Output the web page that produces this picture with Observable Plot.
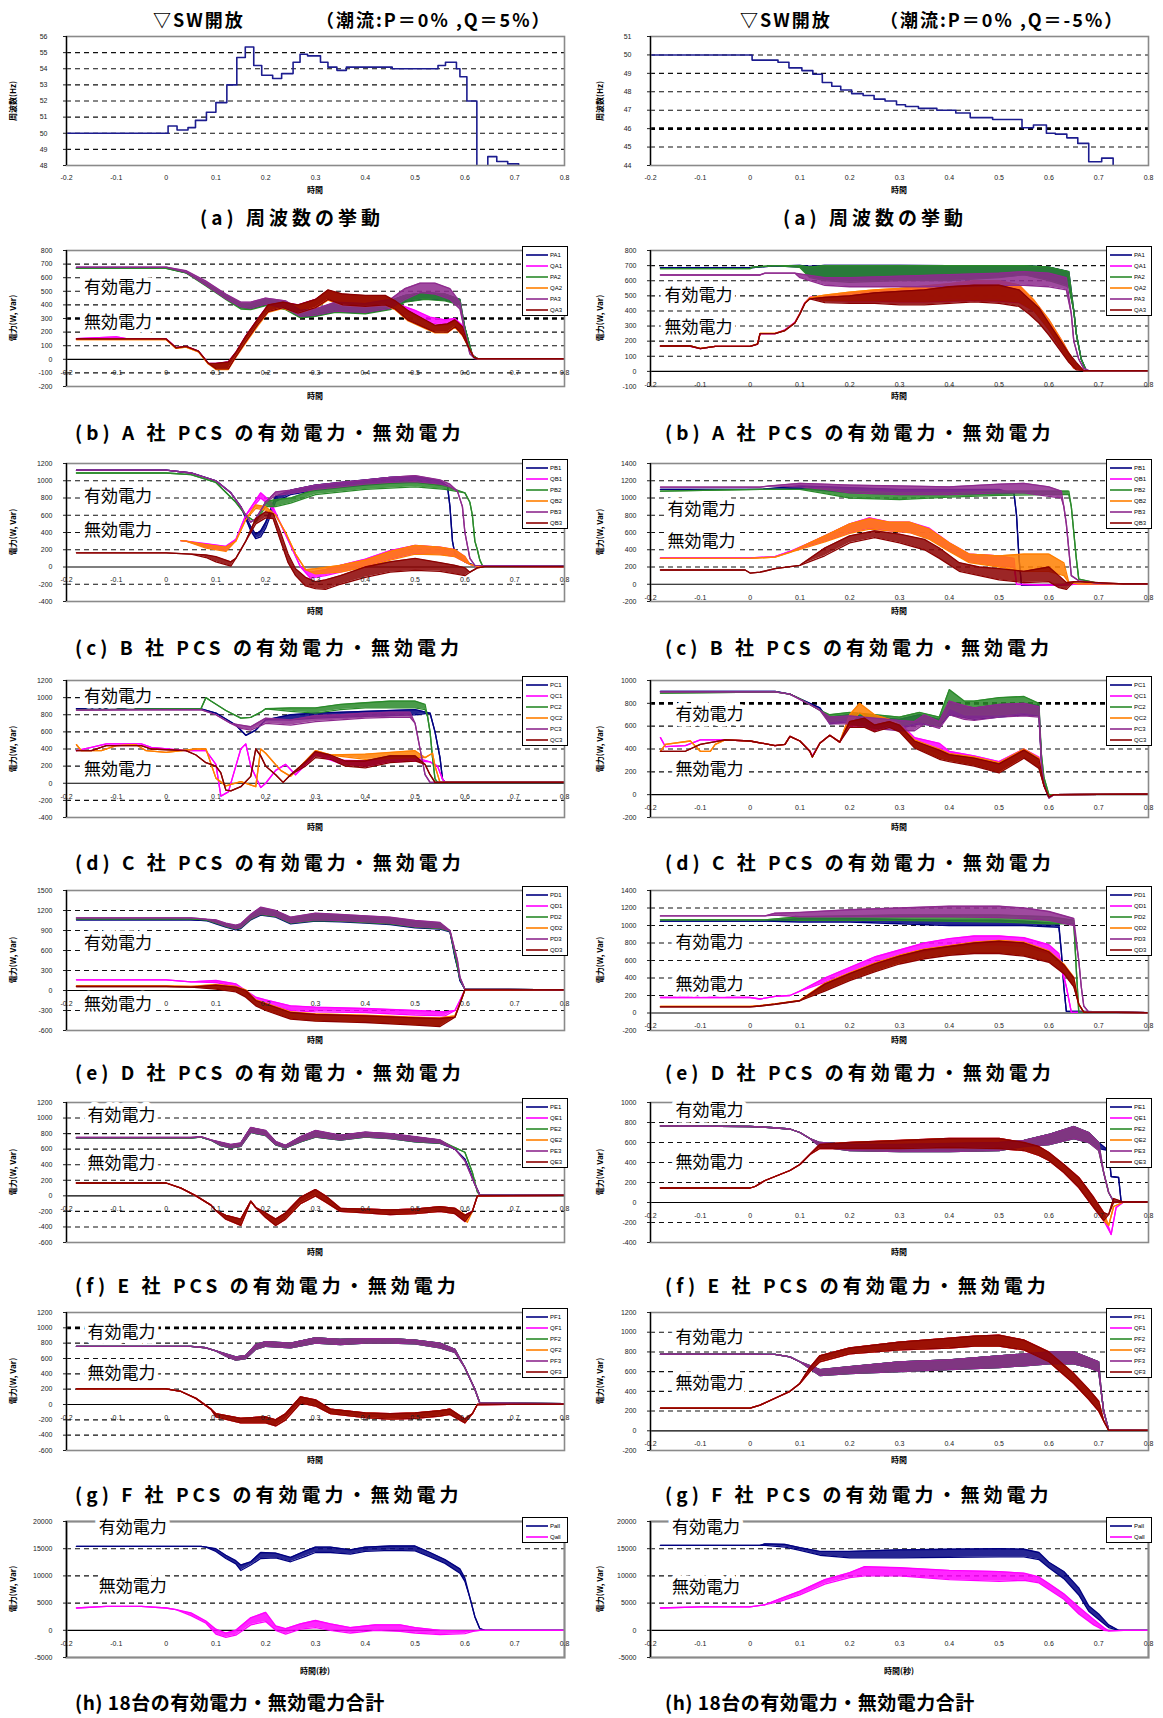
<!DOCTYPE html>
<html><head><meta charset="utf-8">
<script src="https://cdn.jsdelivr.net/npm/d3@7"></script>
<script src="https://cdn.jsdelivr.net/npm/@observablehq/plot@0.6"></script>
<style>
body{margin:0;background:#fff;}
#root{position:relative;width:1163px;height:1718px;overflow:hidden;font-family:"Noto Sans CJK JP","Noto Sans",sans-serif;}
.cap{font-weight:700;font-size:19px;letter-spacing:4px;white-space:nowrap;line-height:1;}
.hdr{font-weight:700;font-size:18px;letter-spacing:2px;white-space:nowrap;line-height:1;}
.xt{font-weight:700;font-size:8px;white-space:nowrap;line-height:1;transform:translateX(-50%);}
.yt{font-weight:700;font-size:8px;white-space:nowrap;line-height:1;transform:translate(-50%,-50%) rotate(-90deg);}
.leg{background:#fff;border:1.6px solid #000;box-sizing:border-box;padding:2px 2px 0 3px;}
.leg .r{display:flex;align-items:center;height:11px;font:6px "Liberation Sans",sans-serif;}
.leg svg{margin-right:2px;}
</style></head><body><div id="root"></div>
<script>
// ---------- common ticks ----------
const xTicks = [-0.2,-0.1,0,0.1,0.2,0.3,0.4,0.5,0.6,0.7,0.8];
const tFreqL = [48,49,50,51,52,53,54,55,56];
const tFreqR = [44,45,46,47,48,49,50,51];
const tAL = [-200,-100,0,100,200,300,400,500,600,700,800];
const tAR = [-100,0,100,200,300,400,500,600,700,800];
const tBL = [-400,-200,0,200,400,600,800,1000,1200];
const tBR = [-200,0,200,400,600,800,1000,1200,1400];
const tCL = [-400,-200,0,200,400,600,800,1000,1200];
const tCR = [-200,0,200,400,600,800,1000];
const tDL = [-600,-300,0,300,600,900,1200,1500];
const tDR = [-200,0,200,400,600,800,1000,1200,1400];
const tEL = [-600,-400,-200,0,200,400,600,800,1000,1200];
const tER = [-400,-200,0,200,400,600,800,1000];
const tFL = [-600,-400,-200,0,200,400,600,800,1000,1200];
const tFR = [-200,0,200,400,600,800,1000,1200];
const tH = [-5000,0,5000,10000,15000,20000];

// ---------- frequency (Hz) step data [t, f] ----------
const freqQ5 = [[-0.2,50],[0.004,50.45],[0.022,50.2],[0.044,50.35],[0.059,50.8],[0.081,51.3],[0.1,51.9],[0.122,53.0],[0.142,54.7],[0.159,55.35],[0.176,54.2],[0.192,53.6],[0.214,53.4],[0.232,53.7],[0.255,54.4],[0.269,54.9],[0.284,54.8],[0.31,54.4],[0.325,54.1],[0.343,53.9],[0.362,54.1],[0.454,54.0],[0.546,54.2],[0.561,54.4],[0.583,54.0],[0.59,53.5],[0.604,52.0],[0.624,47],[0.646,48.55],[0.664,48.25],[0.686,48.1],[0.708,47]];
const freqQm5 = [[-0.2,50],[0.004,49.72],[0.056,49.6],[0.078,49.3],[0.104,49.15],[0.126,48.95],[0.145,48.5],[0.164,48.3],[0.182,48.1],[0.204,47.9],[0.227,47.8],[0.249,47.6],[0.271,47.5],[0.294,47.3],[0.312,47.2],[0.338,47.1],[0.375,47.0],[0.413,46.85],[0.442,46.6],[0.487,46.5],[0.546,46.05],[0.569,46.2],[0.595,45.75],[0.613,45.7],[0.636,45.5],[0.658,45.2],[0.68,44.2],[0.706,44.4],[0.729,43]];

// ---------- power data [t, low, high] (W / Var) ----------
// A社 Q=5%
const aL_P1 = [[-0.18,672],[0,672],[0.04,638],[0.08,545,560],[0.12,445,470],[0.15,380,410],[0.17,372,410],[0.2,400,440],[0.24,370,420],[0.27,310,355],[0.3,320,365],[0.34,350,410],[0.4,340,400],[0.45,370,430],[0.48,425,470],[0.52,445,490],[0.56,435,480],[0.59,405,440],[0.6,230],[0.615,30],[0.625,5],[0.8,5]];
const aL_P2 = [[-0.18,668],[0,668],[0.04,635],[0.08,540,560],[0.12,440,470],[0.15,370,410],[0.17,365,410],[0.2,395,440],[0.24,365,420],[0.27,305,355],[0.3,315,365],[0.34,345,410],[0.4,335,400],[0.45,365,430],[0.48,420,470],[0.52,440,490],[0.56,430,480],[0.59,400,440],[0.6,230],[0.615,30],[0.625,5],[0.8,5]];
const aL_P3 = [[-0.18,678],[0,678],[0.04,640,652],[0.08,545,575],[0.12,445,480],[0.15,385,420],[0.17,375,420],[0.2,405,450],[0.24,375,430],[0.27,315,360],[0.3,325,370],[0.34,355,420],[0.4,345,410],[0.45,375,440],[0.48,440,520],[0.51,490,560],[0.54,480,560],[0.57,440,520],[0.59,370,420],[0.6,200],[0.61,40],[0.62,5],[0.8,5]];
const aL_Q1 = [[-0.18,152],[-0.1,165],[-0.08,152],[0,152],[0.02,85],[0.04,95],[0.065,60],[0.085,-30],[0.1,-65,-30],[0.125,-65,-20],[0.14,20,50],[0.16,130,170],[0.185,260,300],[0.205,350,400],[0.235,380,420],[0.265,340,400],[0.3,380,440],[0.325,440,500],[0.355,400,470],[0.4,390,460],[0.44,400,460],[0.47,350,400],[0.5,310,360],[0.53,270,310],[0.56,250,290],[0.58,260,300],[0.595,200,250],[0.607,100],[0.618,15],[0.625,5],[0.8,5]];
const aL_Q2 = [[-0.18,145],[0,145],[0.02,80],[0.04,90],[0.065,55],[0.085,-35],[0.1,-75,-40],[0.125,-75,-30],[0.14,15,45],[0.16,120,160],[0.185,250,290],[0.205,345,390],[0.235,375,415],[0.265,335,395],[0.3,375,435],[0.325,435,505],[0.355,395,475],[0.4,385,465],[0.44,395,465],[0.46,365,425],[0.485,285,355],[0.515,235,295],[0.54,195,245],[0.565,195,255],[0.58,235,285],[0.595,175,235],[0.607,90],[0.618,15],[0.625,5],[0.8,5]];
const aL_Q3 = [[-0.18,150],[0,150],[0.02,85],[0.04,95],[0.065,60],[0.085,-30],[0.1,-70,-30],[0.125,-70,-20],[0.14,20,50],[0.16,130,170],[0.185,260,300],[0.205,350,400],[0.235,380,420],[0.265,340,400],[0.3,380,440],[0.325,440,510],[0.355,400,480],[0.4,390,470],[0.44,400,470],[0.46,370,430],[0.485,290,360],[0.515,240,300],[0.54,200,250],[0.565,200,260],[0.58,240,290],[0.595,180,240],[0.607,90],[0.618,15],[0.625,5],[0.8,5]];
// A社 Q=-5%
const aR_P1 = [[-0.18,686],[0,686],[0.05,698],[0.1,690,702],[0.12,630,695],[0.15,610,702],[0.2,600,702],[0.3,610,702],[0.4,610,700],[0.5,625,700],[0.55,640,700],[0.6,610,690],[0.64,570,660],[0.65,400],[0.655,250],[0.665,80],[0.675,5],[0.8,5]];
const aR_P2 = [[-0.18,680],[0,680],[0.005,690],[0.05,700],[0.1,688,700],[0.12,620,690],[0.15,600,700],[0.2,590,700],[0.3,600,700],[0.4,600,700],[0.5,620,700],[0.55,640,700],[0.6,600,690],[0.64,560,660],[0.65,400],[0.655,250],[0.665,80],[0.675,5],[0.8,5]];
const aR_P3 = [[-0.18,638],[0.02,638],[0.03,650],[0.09,650],[0.1,620,645],[0.15,570,620],[0.2,560,620],[0.3,560,630],[0.4,560,640],[0.5,570,650],[0.55,570,660],[0.6,560,650],[0.635,540,620],[0.645,380],[0.65,200],[0.66,80],[0.67,20],[0.68,5],[0.8,5]];
const aR_Q1 = [[-0.18,165],[-0.12,165],[-0.1,150],[-0.07,165],[0,165],[0.015,180],[0.02,250],[0.05,250],[0.07,275],[0.09,325],[0.1,385],[0.11,455],[0.12,490],[0.15,470,500],[0.2,465,520],[0.25,465,535],[0.3,460,545],[0.35,460,555],[0.4,465,575],[0.45,470,590],[0.5,465,595],[0.54,455,570],[0.57,400,470],[0.6,275,340],[0.63,120,180],[0.65,20,60],[0.67,5],[0.8,5]];
const aR_Q2 = [[-0.18,168],[-0.12,168],[-0.1,152],[-0.07,166],[0,166],[0.015,182],[0.02,252],[0.05,252],[0.07,272],[0.09,322],[0.1,383],[0.11,452],[0.12,488],[0.15,470,505],[0.2,468,525],[0.25,468,540],[0.3,465,550],[0.35,465,565],[0.4,470,580],[0.45,475,600],[0.5,470,600],[0.54,460,572],[0.57,402,472],[0.6,280,342],[0.63,122,182],[0.65,20,62],[0.67,5],[0.8,5]];
const aR_Q3 = [[-0.18,168],[-0.12,168],[-0.1,150],[-0.07,165],[0,165],[0.015,180],[0.02,250],[0.05,250],[0.07,270],[0.09,320],[0.1,380],[0.11,450],[0.12,480],[0.15,455,490],[0.2,450,500],[0.25,450,520],[0.3,440,530],[0.35,440,540],[0.4,450,560],[0.45,460,570],[0.5,450,570],[0.54,430,540],[0.56,380,480],[0.58,320,420],[0.6,240,320],[0.62,150,220],[0.64,60,120],[0.655,10,60],[0.67,5],[0.8,5]];
// B社 Q=5%
const bL_P1 = [[-0.18,1124],[0,1124],[0.05,1090],[0.1,1000],[0.13,860],[0.15,700],[0.17,420,470],[0.18,330,380],[0.19,350,420],[0.2,450,520],[0.22,760,820],[0.25,840,890],[0.3,890,950],[0.35,920,980],[0.4,950,1010],[0.45,970,1040],[0.5,980,1050],[0.55,950,1000],[0.565,940],[0.57,700],[0.575,300],[0.58,150],[0.6,60],[0.62,15],[0.8,10]];
const bL_P2 = [[-0.18,1090],[0,1090],[0.05,1070],[0.1,980],[0.14,750],[0.16,600],[0.18,520],[0.2,700,760],[0.22,700,780],[0.25,740,800],[0.3,840,900],[0.4,900,960],[0.5,930,990],[0.56,900,940],[0.6,860],[0.61,750],[0.615,600],[0.62,300],[0.625,200],[0.63,80],[0.635,20],[0.8,10]];
const bL_P3 = [[-0.18,1124],[0,1124],[0.05,1090],[0.1,1000],[0.13,860],[0.15,700],[0.16,600],[0.17,520],[0.18,560],[0.2,750],[0.22,830,870],[0.25,850,890],[0.3,900,950],[0.35,930,980],[0.4,960,1010],[0.45,980,1040],[0.5,990,1060],[0.55,960,1010],[0.57,930,960],[0.585,880],[0.595,700],[0.6,400],[0.61,100],[0.62,20],[0.8,10]];
const bL_Q1 = [[0.03,305],[0.04,300],[0.08,230,270],[0.12,190,240],[0.14,320],[0.16,600],[0.19,800,860],[0.21,700,760],[0.23,500],[0.25,250],[0.27,0],[0.29,-130,-60],[0.32,-100,-30],[0.35,-60,20],[0.4,10,90],[0.45,90,190],[0.5,160,250],[0.55,150,230],[0.58,120,200],[0.6,60,120],[0.61,30],[0.625,10],[0.8,5]];
const bL_Q2 = [[0.03,305],[0.04,300],[0.08,220,260],[0.12,180,230],[0.14,300],[0.16,550],[0.18,680,720],[0.2,660,700],[0.22,600],[0.24,400],[0.26,150],[0.28,-30],[0.3,-80,-20],[0.35,-60,20],[0.4,0,80],[0.45,80,180],[0.5,150,250],[0.55,140,230],[0.58,120,200],[0.6,60,120],[0.61,30],[0.625,10],[0.8,5]];
const bL_Q3 = [[-0.18,164],[0,164],[0.05,150],[0.08,110,140],[0.1,60,120],[0.13,10,60],[0.14,100],[0.16,300],[0.18,500,560],[0.2,570,640],[0.215,560,620],[0.23,300,400],[0.245,50,150],[0.26,-100,-20],[0.28,-220,-120],[0.3,-250,-170],[0.32,-260,-150],[0.35,-200,-100],[0.4,-120,0],[0.45,-60,60],[0.5,-40,100],[0.55,-50,50],[0.58,-80,20],[0.6,-100,-10],[0.61,-60],[0.625,-10],[0.64,5],[0.8,5]];
// B社 Q=-5%
const bR_P1 = [[-0.18,1100],[0.02,1100],[0.1,1110,1140],[0.2,1060,1120],[0.3,1040,1100],[0.4,1040,1100],[0.5,1050,1100],[0.53,1050],[0.535,800],[0.54,300],[0.545,-10],[0.6,-10],[0.65,0],[0.8,5]];
const bR_P2 = [[-0.18,1080],[0.02,1100],[0.1,1100],[0.15,1050,1110],[0.2,1000,1080],[0.3,980,1060],[0.4,1010,1060],[0.5,1030,1080],[0.6,1040,1080],[0.64,1040,1080],[0.645,900],[0.65,600],[0.655,300],[0.66,60],[0.7,10],[0.8,5]];
const bR_P3 = [[-0.18,1127],[0.02,1127],[0.04,1140],[0.1,1130,1170],[0.15,1100,1160],[0.2,1060,1150],[0.3,1040,1140],[0.4,1040,1130],[0.5,1060,1160],[0.55,1060,1170],[0.6,1020,1130],[0.625,1000,1080],[0.63,900],[0.635,700],[0.64,400],[0.645,100],[0.66,40],[0.7,10],[0.8,5]];
const bR_Q1 = [[-0.18,305],[0,305],[0.05,320],[0.08,380],[0.12,450,480],[0.15,500,560],[0.2,600,700],[0.24,650,770],[0.28,620,720],[0.32,600,720],[0.36,530,650],[0.4,390,480],[0.44,260,350],[0.5,210,330],[0.53,200,300],[0.535,0],[0.6,-10],[0.65,0],[0.8,5]];
const bR_Q2 = [[-0.18,300],[0,300],[0.05,315],[0.08,370],[0.12,440,480],[0.15,490,560],[0.2,590,700],[0.24,640,760],[0.28,620,720],[0.32,600,720],[0.36,520,640],[0.4,380,480],[0.44,250,350],[0.5,200,330],[0.55,150,350],[0.6,150,350],[0.63,100,250],[0.64,20],[0.66,5],[0.8,5]];
const bR_Q3 = [[-0.18,165],[-0.01,165],[0,130],[0.02,140],[0.05,180],[0.1,220],[0.15,330,420],[0.2,480,560],[0.25,540,620],[0.3,480,580],[0.35,400,520],[0.38,300,420],[0.42,150,250],[0.46,100,200],[0.5,50,180],[0.55,20,150],[0.6,30,200],[0.62,-40,100],[0.635,-60,20],[0.65,30],[0.7,20],[0.75,5],[0.8,5]];
// C社 Q=5%
const cL_P1 = [[-0.18,870],[0.07,870],[0.1,820],[0.14,680],[0.16,560],[0.18,620],[0.2,740],[0.25,740,800],[0.3,760,820],[0.4,780,840],[0.5,800,860],[0.53,820],[0.54,600],[0.55,300],[0.555,50],[0.56,10],[0.8,10]];
const cL_P2 = [[-0.18,860],[0.07,870],[0.08,1000],[0.09,960],[0.12,850],[0.15,760],[0.17,770],[0.19,830],[0.2,870],[0.25,840,880],[0.3,820,880],[0.35,860,920],[0.4,880,940],[0.45,880,960],[0.5,880,960],[0.52,860,920],[0.525,780],[0.53,600],[0.535,300],[0.54,50],[0.545,10],[0.8,10]];
const cL_P3 = [[-0.18,855],[0.07,860],[0.1,800],[0.13,700],[0.15,640,680],[0.17,620,660],[0.2,700,760],[0.25,680,740],[0.3,720,790],[0.35,740,800],[0.4,760,820],[0.45,770,830],[0.49,770,830],[0.5,700],[0.51,400],[0.52,100],[0.53,10],[0.8,10]];
const cL_Q1 = [[-0.18,380],[-0.15,420],[-0.12,460],[-0.05,460],[-0.03,420],[0.04,380],[0.08,380],[0.1,220],[0.11,-150],[0.125,-100],[0.14,200],[0.15,400],[0.16,460],[0.17,200],[0.19,-50],[0.2,0],[0.22,150],[0.24,220],[0.26,100],[0.3,330,370],[0.35,230,270],[0.4,200,260],[0.45,250,310],[0.5,260,300],[0.53,250],[0.545,200],[0.555,50],[0.56,10],[0.8,10]];
const cL_Q2 = [[-0.18,450],[-0.17,380],[-0.13,380],[-0.1,440],[-0.06,450],[-0.04,380],[0,360],[0.06,400],[0.08,400],[0.1,60],[0.12,-30],[0.15,20],[0.18,-40],[0.19,400],[0.2,350],[0.23,150],[0.25,80],[0.3,380],[0.33,330],[0.4,280,340],[0.5,300,380],[0.52,300],[0.535,350],[0.54,200],[0.55,10],[0.8,10]];
const cL_Q3 = [[-0.18,380],[-0.15,380],[-0.12,440],[-0.05,440],[-0.03,400],[0.04,380],[0.06,330],[0.08,240],[0.1,200],[0.11,120],[0.12,-80],[0.13,-90],[0.15,-40],[0.17,80],[0.18,400],[0.19,320],[0.2,200],[0.22,100],[0.235,10],[0.25,100],[0.28,200,250],[0.3,300,370],[0.33,280,330],[0.36,200,260],[0.4,180,260],[0.45,240,320],[0.5,260,320],[0.52,220],[0.53,100],[0.54,10],[0.8,10]];
// C社 Q=-5%
const cR_P1 = [[-0.18,905],[0.05,905],[0.08,880],[0.1,840],[0.12,800],[0.14,760],[0.15,700],[0.16,620,680],[0.2,640,700],[0.25,600,680],[0.3,580,660],[0.34,620,700],[0.38,600,660],[0.4,700,800],[0.45,660,760],[0.5,680,790],[0.55,700,800],[0.58,690,780],[0.585,300],[0.59,100],[0.6,-20],[0.61,0],[0.8,5]];
const cR_P2 = [[-0.18,890],[0.05,900],[0.08,880],[0.1,840],[0.12,790],[0.14,740],[0.16,640,700],[0.2,660,720],[0.25,620,700],[0.3,600,680],[0.34,640,720],[0.38,600,680],[0.4,760,920],[0.43,700,820],[0.45,700,820],[0.5,700,850],[0.55,720,860],[0.58,700,800],[0.585,350],[0.59,150],[0.6,0],[0.61,0],[0.8,5]];
const cR_P3 = [[-0.18,900],[0.05,900],[0.08,880],[0.1,835],[0.12,790],[0.14,740],[0.16,620,680],[0.2,620,690],[0.25,580,670],[0.3,560,650],[0.33,560,640],[0.35,620,700],[0.38,580,640],[0.4,700,820],[0.43,660,780],[0.45,650,760],[0.5,680,790],[0.55,690,800],[0.58,680,770],[0.585,280],[0.59,80],[0.6,-30],[0.61,0],[0.8,5]];
const cR_Q1 = [[-0.18,500],[-0.17,420],[-0.13,430],[-0.1,480],[-0.05,480],[0,470],[0.05,430],[0.07,440],[0.08,510],[0.1,470],[0.12,380],[0.125,340],[0.14,450],[0.16,520],[0.18,460],[0.2,600,660],[0.23,600,680],[0.25,560,630],[0.28,600,660],[0.3,560,630],[0.33,440,500],[0.38,360,450],[0.4,320,380],[0.45,270,340],[0.5,210,290],[0.55,330,400],[0.58,250,330],[0.59,80],[0.6,-20],[0.61,0],[0.8,5]];
const cR_Q2 = [[-0.18,380],[-0.17,440],[-0.12,470],[-0.1,380],[-0.08,380],[-0.07,440],[-0.05,480],[0,470],[0.05,430],[0.07,440],[0.08,510],[0.1,470],[0.12,380],[0.125,330],[0.14,450],[0.16,520],[0.18,460],[0.2,620,700],[0.22,720,800],[0.25,620,700],[0.28,600,660],[0.3,560,620],[0.33,420,480],[0.38,320,400],[0.4,300,360],[0.45,260,330],[0.5,200,280],[0.55,330,400],[0.58,240,320],[0.59,80],[0.6,-20],[0.61,0],[0.8,5]];
const cR_Q3 = [[-0.18,380],[-0.13,380],[-0.1,440],[-0.05,480],[0,470],[0.05,430],[0.07,440],[0.08,510],[0.1,470],[0.12,380],[0.125,330],[0.14,450],[0.16,520],[0.18,460],[0.2,590,640],[0.23,590,670],[0.25,550,610],[0.28,590,640],[0.3,550,610],[0.33,410,470],[0.38,310,390],[0.4,290,350],[0.45,250,320],[0.5,190,270],[0.55,320,390],[0.58,230,310],[0.59,80],[0.6,-20],[0.61,0],[0.8,5]];
// D社 Q=5%
const dL_P1 = [[-0.18,1060],[0.05,1060],[0.08,1050],[0.1,1000,1040],[0.12,950,990],[0.14,910,960],[0.15,930,980],[0.17,1060,1120],[0.19,1130,1220],[0.22,1100,1180],[0.25,1000,1080],[0.3,1040,1140],[0.35,1030,1120],[0.4,1010,1100],[0.45,990,1080],[0.5,940,1030],[0.55,920,1000],[0.57,880],[0.575,700],[0.58,500],[0.585,350],[0.59,150],[0.6,20],[0.8,10]];
const dL_P2 = [[-0.18,1075],[0.05,1075],[0.08,1060],[0.1,1010,1050],[0.12,960,1000],[0.14,920,970],[0.15,940,990],[0.17,1070,1130],[0.19,1140,1235],[0.22,1110,1190],[0.25,1010,1090],[0.3,1050,1150],[0.35,1040,1130],[0.4,1020,1110],[0.45,1000,1090],[0.5,950,1040],[0.55,930,1010],[0.57,890],[0.58,550],[0.59,180],[0.6,20],[0.8,10]];
const dL_P3 = [[-0.18,1090],[0.05,1090],[0.08,1070],[0.1,1020,1060],[0.12,970,1010],[0.14,930,980],[0.15,950,1000],[0.17,1080,1140],[0.19,1150,1250],[0.22,1120,1200],[0.25,1020,1100],[0.3,1060,1160],[0.35,1050,1140],[0.4,1030,1120],[0.45,1010,1100],[0.5,960,1050],[0.55,940,1020],[0.57,900],[0.58,600],[0.585,450],[0.59,200],[0.6,20],[0.8,10]];
const dL_Q1 = [[-0.18,160],[0,160],[0.05,130],[0.1,120,150],[0.14,60,100],[0.16,-50,0],[0.18,-150,-100],[0.2,-200,-140],[0.25,-300,-230],[0.3,-320,-250],[0.4,-330,-270],[0.5,-370,-300],[0.56,-380,-320],[0.58,-300],[0.59,-150],[0.6,10],[0.8,10]];
const dL_Q2 = [[-0.18,70],[0,70],[0.05,60],[0.1,30,90],[0.14,-10,60],[0.16,-90,10],[0.18,-220,-140],[0.2,-290,-190],[0.25,-420,-320],[0.3,-450,-350],[0.4,-470,-370],[0.5,-510,-400],[0.55,-530,-410],[0.58,-380],[0.59,-200],[0.6,10],[0.8,10]];
const dL_Q3 = [[-0.18,60],[0,60],[0.05,50],[0.1,20,80],[0.14,-20,50],[0.16,-100,0],[0.18,-230,-150],[0.2,-300,-200],[0.25,-430,-330],[0.3,-460,-360],[0.4,-480,-380],[0.5,-520,-410],[0.55,-540,-420],[0.58,-400],[0.59,-200],[0.6,10],[0.8,10]];
// D社 Q=-5%
const dR_P1 = [[-0.18,1050],[0.03,1050],[0.1,1040,1080],[0.2,1040,1080],[0.3,1020,1070],[0.4,1000,1060],[0.5,1000,1060],[0.55,1000,1050],[0.62,980,1020],[0.625,700],[0.63,300],[0.635,20],[0.8,5]];
const dR_P2 = [[-0.18,1065],[0.03,1065],[0.1,1060,1100],[0.3,1060,1120],[0.5,1040,1120],[0.6,1020,1100],[0.65,1020,1060],[0.655,500],[0.66,10],[0.8,5]];
const dR_P3 = [[-0.18,1110],[0.03,1110],[0.05,1120,1140],[0.1,1100,1150],[0.2,1100,1180],[0.3,1100,1200],[0.4,1100,1220],[0.5,1090,1220],[0.55,1080,1200],[0.6,1060,1160],[0.65,1000,1080],[0.66,600],[0.665,300],[0.67,80],[0.68,10],[0.8,5]];
const dR_Q1 = [[-0.18,177],[0,177],[0.02,160],[0.05,190],[0.08,200],[0.1,250],[0.15,350,400],[0.2,460,520],[0.25,560,640],[0.3,640,720],[0.35,700,800],[0.4,760,850],[0.45,780,880],[0.5,780,880],[0.55,760,860],[0.6,680,780],[0.62,600,680],[0.635,300],[0.645,10],[0.8,5]];
const dR_Q2 = [[-0.18,75],[0,75],[0.02,85],[0.05,105],[0.1,145],[0.15,260,340],[0.2,380,460],[0.25,480,570],[0.3,570,660],[0.35,630,730],[0.4,670,770],[0.45,690,810],[0.5,690,830],[0.55,660,810],[0.6,590,710],[0.63,460,560],[0.65,310,410],[0.66,100],[0.67,10],[0.8,5]];
const dR_Q3 = [[-0.18,70],[0,70],[0.02,80],[0.05,100],[0.1,140],[0.15,250,330],[0.2,370,450],[0.25,470,560],[0.3,560,650],[0.35,620,720],[0.4,660,760],[0.45,680,800],[0.5,680,820],[0.55,650,800],[0.6,580,700],[0.63,450,550],[0.65,300,400],[0.66,100],[0.67,10],[0.8,5]];
// E社 Q=5%
const eL_P1 = [[-0.18,745],[0.05,745],[0.07,755],[0.09,715],[0.11,645,685],[0.13,615,655],[0.15,635,675],[0.17,815,875],[0.2,775,835],[0.22,655,695],[0.24,615,645],[0.27,695,755],[0.3,755,835],[0.35,715,775],[0.4,755,815],[0.45,735,795],[0.5,695,755],[0.55,675,715],[0.58,600],[0.6,470],[0.61,320],[0.62,150],[0.63,10],[0.8,10]];
const eL_P2 = [[-0.18,745],[0.04,740],[0.07,755],[0.09,715],[0.11,645,685],[0.13,615,655],[0.15,635,675],[0.17,815,875],[0.2,775,835],[0.22,655,695],[0.24,615,645],[0.27,695,755],[0.3,755,835],[0.35,715,775],[0.4,755,815],[0.45,735,795],[0.5,695,755],[0.55,675,715],[0.58,620],[0.6,560],[0.615,300],[0.625,50],[0.63,10],[0.8,10]];
const eL_P3 = [[-0.18,750],[0.05,750],[0.07,760],[0.09,720],[0.11,650,690],[0.13,620,660],[0.15,640,680],[0.17,820,880],[0.2,780,840],[0.22,660,700],[0.24,620,650],[0.27,700,760],[0.3,760,840],[0.35,720,780],[0.4,760,820],[0.45,740,800],[0.5,700,760],[0.55,680,720],[0.58,600],[0.6,450],[0.61,300],[0.62,150],[0.63,10],[0.8,10]];
const eL_Q2 = [[-0.18,165],[0,165],[0.03,100],[0.06,0],[0.09,-120],[0.1,-190],[0.12,-300,-250],[0.15,-380,-300],[0.17,-70],[0.18,-150],[0.2,-280,-220],[0.22,-380,-300],[0.24,-300,-220],[0.27,-100,-20],[0.3,0,80],[0.32,-80,0],[0.35,-200,-160],[0.4,-220,-170],[0.45,-240,-180],[0.5,-230,-170],[0.55,-200,-140],[0.58,-230,-160],[0.605,-340,-260],[0.615,-200],[0.625,0],[0.8,5]];
const eL_Q3 = [[-0.18,165],[0,165],[0.03,100],[0.06,0],[0.09,-120],[0.1,-190],[0.12,-300,-250],[0.15,-380,-300],[0.17,-70],[0.18,-150],[0.2,-280,-220],[0.22,-380,-300],[0.24,-300,-220],[0.27,-100,-20],[0.3,0,80],[0.32,-80,0],[0.35,-200,-160],[0.4,-220,-170],[0.45,-240,-180],[0.5,-230,-170],[0.55,-200,-140],[0.58,-230,-160],[0.6,-330,-250],[0.615,-200],[0.625,0],[0.8,5]];
// E社 Q=-5%
const eR_P1 = [[-0.18,766],[0,760],[0.04,750],[0.08,735],[0.1,700],[0.12,640],[0.14,560,600],[0.2,520,580],[0.3,510,580],[0.4,510,590],[0.5,520,600],[0.55,560,620],[0.6,580,680],[0.65,640,760],[0.68,600,700],[0.7,540,600],[0.72,520],[0.725,260],[0.74,250],[0.745,10],[0.8,5]];
const eR_P3 = [[-0.18,766],[0,760],[0.04,750],[0.08,735],[0.1,700],[0.12,640],[0.14,560,600],[0.2,520,580],[0.3,510,580],[0.4,510,590],[0.5,520,600],[0.55,560,620],[0.6,580,680],[0.65,640,760],[0.68,600,700],[0.7,520,600],[0.71,300],[0.72,100],[0.73,10],[0.8,5]];
const eR_Q1 = [[-0.18,145],[0,145],[0.01,160],[0.03,220],[0.05,260],[0.08,320],[0.1,380],[0.12,480],[0.14,540,580],[0.2,540,600],[0.3,540,620],[0.4,550,640],[0.5,540,640],[0.55,520,600],[0.58,470,560],[0.6,420,500],[0.63,300,380],[0.66,150,250],[0.69,-50,50],[0.71,-180,-100],[0.725,-320],[0.735,-50],[0.75,5],[0.8,5]];
const eR_Q2 = [[-0.18,145],[0,145],[0.01,160],[0.03,220],[0.05,260],[0.08,320],[0.1,380],[0.12,480],[0.14,540,580],[0.2,540,600],[0.3,540,620],[0.4,550,640],[0.5,540,640],[0.55,520,600],[0.58,470,560],[0.6,420,500],[0.63,300,380],[0.66,150,250],[0.69,-50,50],[0.71,-180,-100],[0.72,-230],[0.73,-40],[0.75,5],[0.8,5]];
const eR_Q3 = [[-0.18,145],[0,145],[0.01,160],[0.03,220],[0.05,260],[0.08,320],[0.1,380],[0.12,480],[0.14,540,580],[0.2,540,600],[0.3,540,620],[0.4,550,640],[0.5,540,640],[0.55,520,600],[0.58,470,560],[0.6,420,500],[0.63,300,380],[0.66,150,250],[0.69,-50,50],[0.71,-180,-100],[0.72,-120],[0.73,0,40],[0.75,5],[0.8,5]];
// F社 Q=5%
const fL_P3 = [[-0.18,757],[0.05,757],[0.08,740],[0.1,700],[0.12,630,660],[0.14,580,620],[0.16,600,640],[0.18,720,780],[0.2,760,820],[0.25,740,800],[0.3,800,870],[0.35,780,850],[0.4,800,860],[0.45,800,860],[0.5,790,840],[0.55,740,800],[0.58,680,720],[0.6,480],[0.62,200],[0.63,20],[0.8,10]];
const fL_Q3 = [[-0.18,205],[0,205],[0.03,170],[0.06,80],[0.09,-60],[0.1,-160,-120],[0.15,-240,-180],[0.2,-240,-160],[0.22,-280,-200],[0.24,-200,-120],[0.27,20,100],[0.3,-20,60],[0.33,-120,-60],[0.4,-170,-110],[0.45,-190,-120],[0.5,-180,-110],[0.55,-150,-80],[0.57,-130,-60],[0.6,-240,-190],[0.615,-120],[0.625,0],[0.8,5]];
// F社 Q=-5%
const fR_P3 = [[-0.18,777],[0,777],[0.05,775],[0.08,750],[0.1,700],[0.12,630,660],[0.14,560,620],[0.2,580,650],[0.3,600,700],[0.4,620,720],[0.5,640,760],[0.55,660,780],[0.6,680,800],[0.65,680,800],[0.68,640,740],[0.7,600,700],[0.705,400],[0.71,200],[0.72,10],[0.8,5]];
const fR_Q3 = [[-0.18,230],[0,230],[0.02,260],[0.05,330],[0.08,400],[0.1,480],[0.12,600,640],[0.14,700,760],[0.2,780,840],[0.3,820,900],[0.4,840,940],[0.45,860,960],[0.5,860,970],[0.55,820,920],[0.6,700,800],[0.65,480,580],[0.68,320,420],[0.7,200,300],[0.71,100],[0.72,5],[0.8,5]];
// 18台合計
const hL_P = [[-0.18,15420],[0.07,15420],[0.08,15300],[0.1,14500,15000],[0.12,13200,13800],[0.14,12200,12800],[0.15,11000,12000],[0.17,12000,12600],[0.19,13200,14300],[0.22,13300,14200],[0.25,12600,13400],[0.28,13600,14600],[0.3,14300,15300],[0.33,14300,15300],[0.37,14000,14800],[0.4,14500,15300],[0.45,14700,15500],[0.5,14600,15500],[0.53,13500,14300],[0.56,12300,13000],[0.59,10500,11300],[0.6,9000,9600],[0.61,6000],[0.62,2500],[0.63,300],[0.64,0],[0.8,0]];
const hL_Q = [[-0.18,4100],[-0.12,4400],[-0.05,4400],[0,4100],[0.02,3800],[0.05,2700,3200],[0.08,1300,1700],[0.1,-700,200],[0.12,-1300,-500],[0.14,-900,0],[0.17,1000,2300],[0.2,1600,3300],[0.22,0,800],[0.24,-700,300],[0.27,200,1200],[0.3,500,1800],[0.33,0,1200],[0.37,-500,500],[0.42,0,1000],[0.47,-200,1000],[0.5,-500,500],[0.55,-800,0],[0.6,-600,-100],[0.62,-100],[0.63,0],[0.8,0]];
const hR_P = [[-0.18,15600],[0.02,15600],[0.03,15600,15900],[0.07,15300,15800],[0.1,14700,15200],[0.14,13800,14500],[0.2,13300,14500],[0.3,13300,14800],[0.4,13400,14900],[0.5,13500,15000],[0.55,13500,14900],[0.58,13000,14300],[0.6,11500,12500],[0.63,9500,10800],[0.66,6500,7800],[0.68,3500,4500],[0.7,2000,3000],[0.72,500,1000],[0.74,0],[0.8,0]];
const hR_Q = [[-0.18,4100],[-0.1,4300],[0,4300],[0.03,4700],[0.06,5300,5800],[0.1,6500,7200],[0.15,8500,9300],[0.2,9700,10600],[0.23,10000,11700],[0.3,10000,11500],[0.4,9300,11000],[0.5,9000,10800],[0.55,9200,10500],[0.58,8700,9800],[0.6,7500,8600],[0.63,5700,6700],[0.66,3000,4300],[0.69,1000,2000],[0.71,0,500],[0.72,-100],[0.75,0],[0.8,0]];

// ---------- text ----------
const capsText = ["(a) 周波数の挙動","(b) A 社 PCS の有効電力・無効電力","(c) B 社 PCS の有効電力・無効電力","(d) C 社 PCS の有効電力・無効電力","(e) D 社 PCS の有効電力・無効電力","(f) E 社 PCS の有効電力・無効電力","(g) F 社 PCS の有効電力・無効電力","(h) 18台の有効電力・無効電力合計"];
const headL = ["▽SW開放","（潮流:P＝0% ,Q＝5%）"];
const headR = ["▽SW開放","（潮流:P＝0% ,Q＝-5%）"];
const legA = ["PA1","QA1","PA2","QA2","PA3","QA3"], legB = ["PB1","QB1","PB2","QB2","PB3","QB3"], legC = ["PC1","QC1","PC2","QC2","PC3","QC3"];
const legD = ["PD1","QD1","PD2","QD2","PD3","QD3"], legE = ["PE1","QE1","PE2","QE2","PE3","QE3"], legF = ["PF1","QF1","PF2","QF2","PF3","QF3"];
const legH = ["Pall","Qall"];
const P_LBL = "有効電力", Q_LBL = "無効電力";

// ---------- styling / layout ----------
const colors6 = ["#000080","#ff00ff","#2a8a2a","#ff7f00","#8e2a8e","#8b0000"];
const colorsH = ["#000080","#ff00ff"];
const layout = {
  colX:[0,580], colW:[580,583], frameX:[[66,564],[650,1148]], yTitleX:[13,600],
  rows:[{top:36,bottom:165,cap:217},{top:250,bottom:386,cap:432},{top:463,bottom:601,cap:647},{top:680,bottom:817,cap:862},
        {top:890,bottom:1030,cap:1072},{top:1102,bottom:1242,cap:1285},{top:1312,bottom:1450,cap:1494},{top:1521,bottom:1657,cap:1702}]
};

const cols = [
 [
  {kind:"freq", data:freqQ5, y:[48,56], ticks:tFreqL, bold:[]},
  {y:[-200,800], ticks:tAL, s:[aL_P1,aL_Q1,aL_P2,aL_Q2,aL_P3,aL_Q3], leg:legA, ann:[[-0.165,525,P_LBL],[-0.165,272,Q_LBL]], bold:[300]},
  {y:[-400,1200], ticks:tBL, s:[bL_P1,bL_Q1,bL_P2,bL_Q2,bL_P3,bL_Q3], leg:legB, ann:[[-0.165,820,P_LBL],[-0.165,425,Q_LBL]], bold:[]},
  {y:[-400,1200], ticks:tCL, s:[cL_P1,cL_Q1,cL_P2,cL_Q2,cL_P3,cL_Q3], leg:legC, ann:[[-0.165,1010,P_LBL],[-0.165,165,Q_LBL]], bold:[]},
  {y:[-600,1500], ticks:tDL, s:[dL_P1,dL_Q1,dL_P2,dL_Q2,dL_P3,dL_Q3], leg:legD, ann:[[-0.165,700,P_LBL],[-0.165,-215,Q_LBL]], bold:[], hideX:[-0.1]},
  {y:[-600,1200], ticks:tEL, s:[eL_P1,eL_Q3,eL_P2,eL_Q2,eL_P3,eL_Q3], leg:legE, ann:[[-0.158,1030,P_LBL],[-0.158,410,Q_LBL]], bold:[]},
  {y:[-600,1200], ticks:tFL, s:[fL_P3,fL_Q3,fL_P3,fL_Q3,fL_P3,fL_Q3], leg:legF, ann:[[-0.158,935,P_LBL],[-0.158,405,Q_LBL]], bold:[1000]},
  {kind:"total", y:[-5000,20000], ticks:tH, s:[hL_P,hL_Q], leg:legH, ann:[[-0.135,18900,P_LBL],[-0.135,8000,Q_LBL]], bold:[]}
 ],
 [
  {kind:"freq", data:freqQm5, y:[44,51], ticks:tFreqR, bold:[46]},
  {y:[-100,800], ticks:tAR, s:[aR_P1,aR_Q1,aR_P2,aR_Q2,aR_P3,aR_Q3], leg:legA, ann:[[-0.172,500,P_LBL],[-0.172,290,Q_LBL]], bold:[]},
  {y:[-200,1400], ticks:tBR, s:[bR_P1,bR_Q1,bR_P2,bR_Q2,bR_P3,bR_Q3], leg:legB, ann:[[-0.166,865,P_LBL],[-0.166,495,Q_LBL]], bold:[]},
  {y:[-200,1000], ticks:tCR, s:[cR_P1,cR_Q1,cR_P2,cR_Q2,cR_P3,cR_Q3], leg:legC, ann:[[-0.15,705,P_LBL],[-0.15,220,Q_LBL]], bold:[800]},
  {y:[-200,1400], ticks:tDR, s:[dR_P1,dR_Q1,dR_P2,dR_Q2,dR_P3,dR_Q3], leg:legD, ann:[[-0.15,800,P_LBL],[-0.15,325,Q_LBL]], bold:[]},
  {y:[-400,1000], ticks:tER, s:[eR_P1,eR_Q1,eR_P3,eR_Q2,eR_P3,eR_Q3], leg:legE, ann:[[-0.15,915,P_LBL],[-0.15,395,Q_LBL]], bold:[]},
  {y:[-200,1200], ticks:tFR, s:[fR_P3,fR_Q3,fR_P3,fR_Q3,fR_P3,fR_Q3], leg:legF, ann:[[-0.15,950,P_LBL],[-0.15,480,Q_LBL]], bold:[]},
  {kind:"total", y:[-5000,20000], ticks:tH, s:[hR_P,hR_Q], leg:legH, ann:[[-0.157,18800,P_LBL],[-0.157,7950,Q_LBL]], bold:[]}
 ]
];

const root = document.getElementById("root");
function addDiv(cls, text, left, top, extra){
  const d = document.createElement("div");
  d.className = cls; d.textContent = text;
  d.style.position = "absolute"; d.style.left = left+"px"; d.style.top = top+"px";
  if (extra) Object.assign(d.style, extra);
  root.appendChild(d); return d;
}
const fmtX = d => d === 0 ? "0" : d.toFixed(1);
const hiOf = d => d.length > 2 ? d[2] : d[1];

// each series: a filled ripple band (low..high) outlined by its low and high traces
function seriesMarks(data, color){
  return [
    Plot.areaY(data, {x:d=>d[0], y1:d=>d[1], y2:hiOf, fill:color, fillOpacity:0.85, clip:true}),
    Plot.line(data, {x:d=>d[0], y:d=>d[1], stroke:color, strokeWidth:1.3, clip:true}),
    Plot.line(data, {x:d=>d[0], y:hiOf, stroke:color, strokeWidth:1.3, clip:true})
  ];
}

function drawPanel(p, col, row){
  const colX = layout.colX[col], W = layout.colW[col];
  const [fx0, fx1] = layout.frameX[col];
  const r = layout.rows[row];
  const isFreq = p.kind === "freq";
  const mt = 8, mb = isFreq ? 22 : 8;
  const H = (r.bottom - r.top) + mt + mb;
  const inner = p.ticks.filter(v => v !== 0 && v > p.y[0] && v < p.y[1]);
  const normal = inner.filter(v => !p.bold.includes(v));
  const cs = p.kind === "total" ? colorsH : colors6;
  const marks = [];
  marks.push(Plot.ruleY(normal, {stroke:"#111", strokeWidth:1.1, strokeDasharray:"5,4"}));
  if (p.bold.length) marks.push(Plot.ruleY(p.bold, {stroke:"#000", strokeWidth:2.6, strokeDasharray:"5,4"}));
  if (!isFreq) marks.push(Plot.ruleY([0], {stroke:"#000", strokeWidth:1.2}));
  if (isFreq) {
    marks.push(Plot.line(p.data, {x:d=>d[0], y:d=>d[1], curve:"step-after", stroke:"#1c1c8f", strokeWidth:1.6, clip:true}));
  } else {
    p.s.forEach((s, i) => marks.push(...seriesMarks(s, cs[i])));
  }
  marks.push(Plot.frame({stroke:"#8a8a8a", strokeWidth: p.kind === "total" ? 2.2 : 1.6}));
  marks.push(Plot.ruleX([-0.2], {stroke:"#000", strokeWidth:1.3}));
  const hide = p.hideX || [];
  const cross = isFreq ? p.y[0] : 0;
  marks.push(Plot.text(xTicks.filter(v => !hide.includes(v)), {x:d=>d, y:()=>cross, dy: isFreq ? 12 : 13, text:fmtX, fontSize:7, fill:"#222"}));
  if (p.ann) {
    const ann = p.ann.map(a => ({x:a[0], y:a[1], t:a[2]}));
    marks.push(Plot.text(ann, {x:"x", y:"y", text:"t", textAnchor:"start", fontSize:17, fill:"#fff", stroke:"#fff", strokeWidth:9, fontFamily:"Noto Sans CJK JP"}));
    marks.push(Plot.text(ann, {x:"x", y:"y", text:"t", textAnchor:"start", fontSize:17, fill:"#000", fontFamily:"Noto Sans CJK JP"}));
  }
  marks.push(Plot.axisY({ticks:p.ticks, tickSize:3, tickPadding: isFreq ? 16 : 11, fontSize:7, label:null, tickFormat:d=>String(d)}));

  const svg = Plot.plot({
    width: W, height: H, marginTop: mt, marginBottom: mb,
    marginLeft: fx0 - colX, marginRight: colX + W - fx1,
    x:{domain:[-0.2,0.8], axis:null}, y:{domain:p.y, label:null},
    style:{background:"transparent", fontFamily:"Liberation Sans, sans-serif", color:"#222", overflow:"visible"},
    marks
  });
  svg.style.position = "absolute"; svg.style.left = colX+"px"; svg.style.top = (r.top - mt)+"px";
  root.appendChild(svg);

  // axis titles
  const cx = (fx0 + fx1) / 2;
  if (isFreq) addDiv("xt", "時間", cx, 186);
  else addDiv("xt", p.kind === "total" ? "時間(秒)" : "時間", cx, r.bottom + (p.kind === "total" ? 10 : 6));
  addDiv("yt", isFreq ? "周波数(Hz)" : "電力(W, Var)", layout.yTitleX[col], (r.top + r.bottom)/2);

  // caption
  if (row === 0) addDiv("cap", capsText[row], col === 0 ? 292 : 875, r.cap - 10, {transform:"translateX(-50%)"});
  else if (p.kind === "total") addDiv("cap", capsText[row], col === 0 ? 75 : 665, r.cap - 10, {letterSpacing:"0.5px"});
  else addDiv("cap", capsText[row], col === 0 ? 75 : 665, r.cap - 10);

  // legend
  if (p.leg) {
    const n = p.leg.length;
    const box = document.createElement("div");
    box.className = "leg";
    Object.assign(box.style, {position:"absolute", left:(fx1 - 42)+"px", top:(r.top - 4)+"px", width:"46px", height:(n*11+4)+"px"});
    p.leg.forEach((name, i) => {
      const rw = document.createElement("div"); rw.className = "r";
      rw.innerHTML = `<svg width="22" height="6"><line x1="0" y1="3" x2="22" y2="3" stroke="${cs[i]}" stroke-width="1.6"/></svg><span>${name}</span>`;
      box.appendChild(rw);
    });
    root.appendChild(box);
  }
}

cols.forEach((list, col) => list.forEach((p, row) => drawPanel(p, col, row)));
addDiv("hdr", headL[0], 153, 10); addDiv("hdr", headL[1], 316, 10);
addDiv("hdr", headR[0], 740, 10); addDiv("hdr", headR[1], 880, 10);
</script></body></html>
